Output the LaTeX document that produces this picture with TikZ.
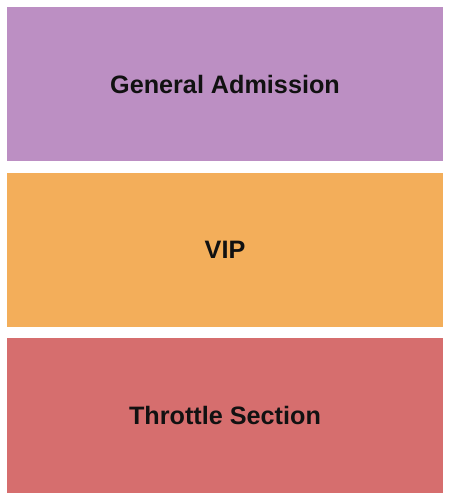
\documentclass[tikz,border=0pt]{standalone}
\usepackage{fontspec}
\setmainfont{Liberation Sans}
\definecolor{gapurple}{HTML}{BC8FC3}
\definecolor{viporange}{HTML}{F3AE5A}
\definecolor{thrred}{HTML}{D66E6E}
\definecolor{labelink}{HTML}{111111}
\tikzset{
  section/.style={draw=none, anchor=north west, inner sep=0pt, outer sep=0pt},
  seclabel/.style={font=\fontsize{25.2}{28}\selectfont\bfseries, text=labelink, inner sep=0pt}
}
\begin{document}
\begin{tikzpicture}[x=1pt,y=-1pt]
\useasboundingbox (0,0) rectangle (450,500);
\fill[white] (0,0) rectangle (450,500);
\node[section, fill=gapurple, minimum width=436pt, minimum height=154pt] (ga) at (7,7) {};
\node[section, fill=viporange, minimum width=436pt, minimum height=153.5pt] (vip) at (7,173) {};
\node[section, fill=thrred, minimum width=436pt, minimum height=155pt] (thr) at (7,338) {};
\node[seclabel] (galabel) at (ga.center) {General Admission};
\node[seclabel] (viplabel) at (vip.center) {VIP};
\node[seclabel] (thrlabel) at (thr.center) {Throttle Section};
\end{tikzpicture}
\end{document}
